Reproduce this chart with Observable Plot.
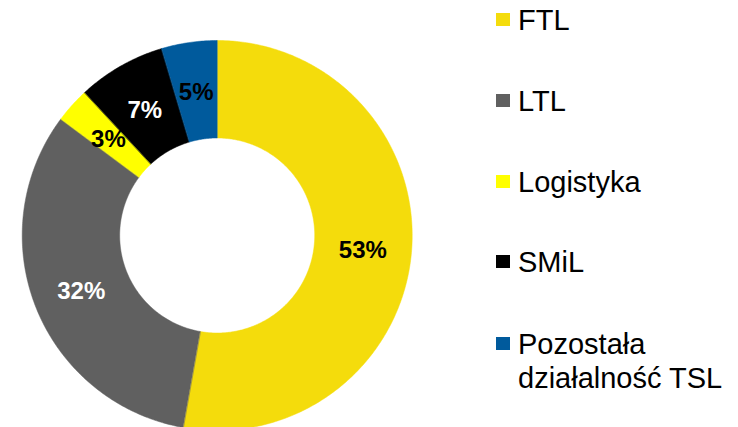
<!DOCTYPE html>
<html>
<head>
<meta charset="utf-8">
<script src="https://cdn.jsdelivr.net/npm/d3@7"></script>
<script src="https://cdn.jsdelivr.net/npm/@observablehq/plot@0.6"></script>
<style>
  html, body { margin: 0; padding: 0; background: #fff; }
  #wrap { position: relative; width: 738px; height: 427px; overflow: hidden; font-family: "Liberation Sans", Arial, sans-serif; }
  #chart { position: absolute; left: 0; top: 0; }
  #legend { position: absolute; left: 496px; top: 0; }
  .item { position: absolute; left: 0; white-space: nowrap; font-size: 29px; color: #000; line-height: 34px; }
  .sw { position: absolute; left: 0; width: 14px; height: 13px; }
  .lbl { position: absolute; left: 22px; }
</style>
</head>
<body>
<div id="wrap">
  <div id="chart"></div>
  <div id="legend"></div>
</div>
<script>
// Data
const categories = ["FTL", "LTL", "Logistyka", "SMiL", "Pozostała działalność TSL"];
const legendLabels = [["FTL"], ["LTL"], ["Logistyka"], ["SMiL"], ["Pozostała", "działalność TSL"]];
const shares = [52.8, 32.4, 2.9, 7.3, 4.6];
const colors = ["#F4DC0C", "#606060", "#FFFF00", "#000000", "#005A9C"];
const labelColors = ["#000000", "#FFFFFF", "#000000", "#FFFFFF", "#000000"];

// Geometry
const W = 738, H = 427;
const R = 195, cx = 216.7, cy = 235;
const innerRatio = 0.5;

const total = d3.sum(shares);
let acc = 0;
const slices = shares.map((v, i) => {
  const a0 = acc / total * 2 * Math.PI;
  acc += v;
  const a1 = acc / total * 2 * Math.PI;
  return {cat: categories[i], value: v, a0, a1, color: colors[i], labelColor: labelColors[i]};
});

// Polygon vertices for each ring segment (angle clockwise from top)
const pts = [];
for (const s of slices) {
  const n = Math.max(4, Math.ceil((s.a1 - s.a0) / 0.01));
  for (let k = 0; k <= n; k++) {
    const a = s.a0 + (s.a1 - s.a0) * k / n;
    pts.push({cat: s.cat, x: Math.sin(a), y: Math.cos(a)});
  }
  for (let k = n; k >= 0; k--) {
    const a = s.a0 + (s.a1 - s.a0) * k / n;
    pts.push({cat: s.cat, x: innerRatio * Math.sin(a), y: innerRatio * Math.cos(a)});
  }
}
const labels = slices.map(s => {
  const a = (s.a0 + s.a1) / 2, r = (1 + innerRatio) / 2;
  return {cat: s.cat, x: r * Math.sin(a), y: r * Math.cos(a), text: Math.round(s.value) + "%", fill: s.labelColor};
});

const plot = Plot.plot({
  width: W, height: H,
  margin: 0,
  style: {background: "transparent", fontFamily: "'Liberation Sans', Arial, sans-serif"},
  x: {domain: [-cx / R, (W - cx) / R], axis: null},
  y: {domain: [-(H - cy) / R, cy / R], axis: null},
  color: {domain: categories, range: colors},
  marks: [
    Plot.line(pts, {x: "x", y: "y", z: "cat", fill: "cat", stroke: "cat", strokeWidth: 0.5, curve: "linear-closed"}),
    Plot.text(labels, {x: "x", y: "y", text: "text", fill: d => d.fill, fontSize: 24, fontWeight: "bold", textAnchor: "middle", dy: 2})
  ]
});
document.getElementById("chart").appendChild(plot);

// Legend
const legend = document.getElementById("legend");
const rowTop = [3, 84, 165, 245, 327];
legendLabels.forEach((lines, i) => {
  const it = document.createElement("div");
  it.className = "item";
  it.style.top = rowTop[i] + "px";
  const sw = document.createElement("div");
  sw.className = "sw";
  sw.style.background = colors[i];
  sw.style.top = "10px";
  const lb = document.createElement("div");
  lb.className = "lbl";
  lb.innerHTML = lines.join("<br>");
  it.appendChild(sw); it.appendChild(lb);
  legend.appendChild(it);
});
</script>
</body>
</html>
